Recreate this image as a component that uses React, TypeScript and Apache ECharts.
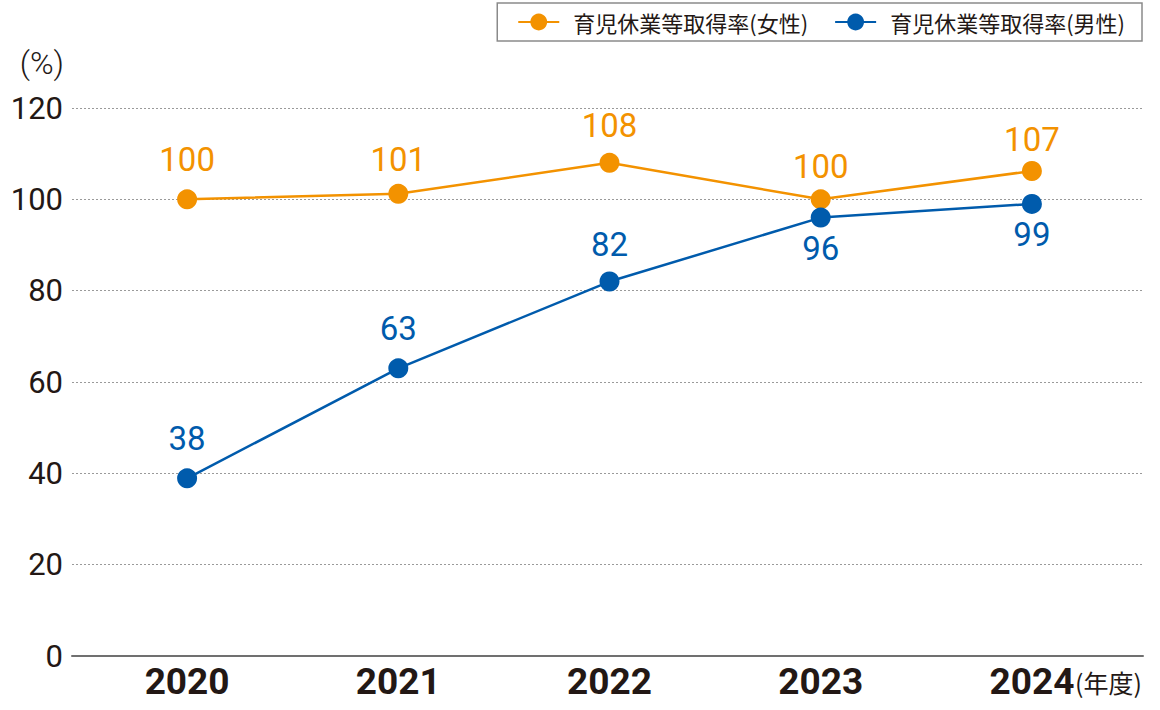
import React, { useEffect, useRef } from "react";
import * as echarts from "echarts";

const years = ["2020", "2021", "2022", "2023", "2024"];
const femaleRates = [100, 101.2, 108, 100, 106.2];
const femaleLabels = ["100", "101", "108", "100", "107"];
const maleRates = [38.9, 63, 82, 96, 99];
const maleLabels = ["38", "63", "82", "96", "99"];
const seriesNames = ["育児休業等取得率(女性)", "育児休業等取得率(男性)"];
const yMin = 0;
const yMax = 120;
const yInterval = 20;
const yUnit = "(%)";
const xUnit = "(年度)";

// label gaps (px) between marker and its value label, per point
const femaleLabelGap = [13, 8, 11, 6, 5];
const maleLabelGap = [13, 13, 11, 4, 4];

const ORANGE = "#F39200";
const BLUE = "#005BAC";
const INK = "#231815";
const NUM_FONT = "Roboto, 'Noto Sans', sans-serif";
const CJK_FONT = "'Noto Sans CJK JP', 'Noto Sans', sans-serif";

export default function App() {
  const ref = useRef<HTMLDivElement>(null);

  useEffect(() => {
    document.body.style.margin = "0";
    if (!ref.current) return;
    const chart = echarts.init(ref.current, undefined, { renderer: "svg" });

    const labelStyle = (color: string) => ({
      show: true,
      color,
      fontFamily: NUM_FONT,
      fontSize: 33,
      fontWeight: "normal" as const,
    });

    chart.setOption({
      animation: false,
      backgroundColor: "#ffffff",
      grid: [
        { left: 81.5, right: 22.5, top: 108, bottom: 54 },
        { left: 72, right: 17, top: 108, bottom: 54 },
      ],
      legend: {
        data: seriesNames,
        right: 18,
        top: 3,
        orient: "horizontal",
        itemWidth: 41,
        itemHeight: 21,
        itemGap: 26,
        padding: [8, 17, 8, 20],
        borderColor: "#8a8a8a",
        borderWidth: 1.5,
        textStyle: {
          fontFamily: CJK_FONT,
          fontSize: 22,
          color: INK,
          padding: [0, 0, 0, 9],
        },
      },
      xAxis: [
        {
          type: "category",
          gridIndex: 0,
          data: years,
          boundaryGap: true,
          axisLine: { show: false },
          axisTick: { show: false },
          splitLine: { show: false },
          axisLabel: {
            color: INK,
            fontFamily: NUM_FONT,
            fontSize: 37,
            fontWeight: "bold",
            margin: 7,
          },
        },
        {
          type: "value",
          gridIndex: 1,
          min: 0,
          max: 1,
          axisLine: { show: true, onZero: false, lineStyle: { color: "#707070", width: 2 } },
          axisTick: { show: false },
          axisLabel: { show: false },
          splitLine: { show: false },
        },
      ],
      yAxis: [
        {
          type: "value",
          gridIndex: 0,
          min: yMin,
          max: yMax,
          interval: yInterval,
          show: false,
          splitLine: { show: false },
        },
        {
          type: "value",
          gridIndex: 1,
          min: yMin,
          max: yMax,
          interval: yInterval,
          name: yUnit,
          nameLocation: "end",
          nameGap: 45,
          nameTextStyle: {
            color: INK,
            fontFamily: NUM_FONT,
            fontSize: 32,
            fontWeight: 300,
            align: "right",
            verticalAlign: "middle",
            padding: [0, 8, 0, 0],
          },
          axisLine: { show: false },
          axisTick: { show: false },
          axisLabel: {
            color: INK,
            fontFamily: NUM_FONT,
            fontSize: 31,
            fontWeight: "normal",
            margin: 9,
          },
          splitLine: { show: true, lineStyle: { color: "#9a9a9a", width: 1, type: [2, 2] } },
        },
      ],
      series: [
        {
          name: seriesNames[0],
          type: "line",
          xAxisIndex: 0,
          yAxisIndex: 0,
          symbol: "circle",
          symbolSize: 20,
          color: ORANGE,
          lineStyle: { color: ORANGE, width: 2.5 },
          itemStyle: { color: ORANGE },
          label: { ...labelStyle(ORANGE), position: "top" },
          data: femaleRates.map((v, i) => ({
            value: v,
            label: { formatter: femaleLabels[i], distance: femaleLabelGap[i] },
          })),
          z: 3,
        },
        {
          name: seriesNames[1],
          type: "line",
          xAxisIndex: 0,
          yAxisIndex: 0,
          symbol: "circle",
          symbolSize: 20,
          color: BLUE,
          lineStyle: { color: BLUE, width: 2.5 },
          itemStyle: { color: BLUE },
          label: { ...labelStyle(BLUE), position: "top" },
          data: maleRates.map((v, i) => ({
            value: v,
            label: {
              formatter: maleLabels[i],
              position: i >= 3 ? "bottom" : "top",
              distance: maleLabelGap[i],
            },
          })),
          z: 4,
        },
      ],
      graphic: [
        {
          type: "text",
          left: 1075,
          top: 669,
          style: {
            text: xUnit,
            fill: INK,
            font: `25px ${CJK_FONT}`,
          },
        },
      ],
    });

    return () => {
      chart.dispose();
    };
  }, []);

  return <div ref={ref} style={{ width: 1160, height: 710 }} />;
}
